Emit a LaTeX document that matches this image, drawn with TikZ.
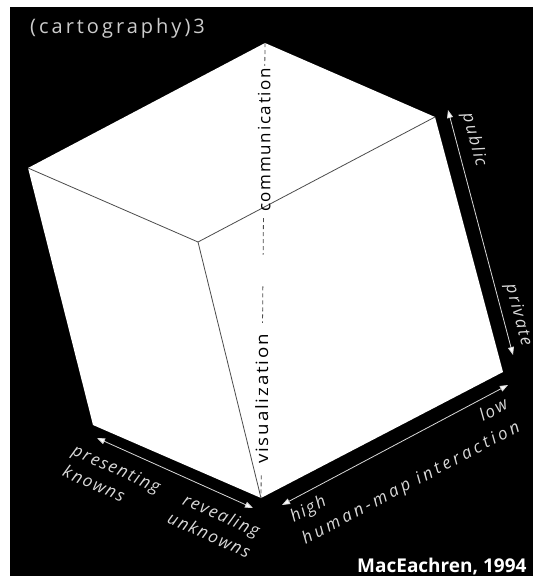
\documentclass[tikz,border=0pt]{standalone}
\usepackage{fontspec}
\setmainfont{Open Sans}
\newfontfamily\lblfont[LetterSpace=10]{Open Sans}
\newfontfamily\widefont[LetterSpace=20]{Open Sans}
\newfontfamily\titlefont[LetterSpace=15]{Open Sans}
\usetikzlibrary{arrows.meta,calc}
\definecolor{lblgray}{gray}{0.85}
\definecolor{titlegray}{gray}{0.8}
\definecolor{edgegray}{gray}{0.3}
\begin{document}
\begin{tikzpicture}[x=1pt,y=-1pt,
  lbl/.style={text=lblgray, inner sep=0pt, font=\lblfont\fontsize{17}{23}\selectfont\itshape},
  axisarrow/.style={draw=lblgray, line width=0.8pt,
    {Triangle[length=8pt,width=6pt,fill=white]}-{Triangle[length=8pt,width=6pt,fill=white]}},
  cubeedge/.style={draw=edgegray, line width=0.8pt},
  diag/.style={draw=edgegray, line width=0.8pt, dash pattern=on 4pt off 3pt},
  diaglbl/.style={text=black, inner sep=0pt, rotate=90, font=\lblfont\fontsize{17}{19}\selectfont}
]
\useasboundingbox (0,0) rectangle (533,576);
\fill[white] (0,0) rectangle (533,576);
\fill[black] (10,7) rectangle (533,576);

% cube vertices
\coordinate (T) at (265,43);
\coordinate (L) at (28,168);
\coordinate (R) at (435,117);
\coordinate (I) at (198,242);
\coordinate (BL) at (93,425);
\coordinate (B) at (261,498);
\coordinate (BR) at (503,372);

\fill[white] (T) -- (R) -- (BR) -- (B) -- (BL) -- (L) -- cycle;
\draw[cubeedge] (L) -- (I) -- (R);
\draw[cubeedge] (I) -- (B);

% diagonal visualization -- communication
\coordinate (d1) at ($(T)!0.050!(B)$);
\coordinate (d2) at ($(T)!0.385!(B)$);
\coordinate (d3) at ($(T)!0.465!(B)$);
\coordinate (d4) at ($(T)!0.535!(B)$);
\coordinate (d5) at ($(T)!0.615!(B)$);
\coordinate (d6) at ($(T)!0.950!(B)$);
\draw[diag] (T) -- (d1);
\draw[diag] (d2) -- (d3);
\draw[diag] (d4) -- (d5);
\draw[diag] (d6) -- (B);
\node[diaglbl] (comm) at ($(T)!0.213!(B)$) {communication};
\node[diaglbl, xscale=1.1] (vis) at ($(T)!0.782!(B)$) {visualization};

% axis arrows
\coordinate (pubA) at (448,110);
\coordinate (pubB) at (513,355);
\coordinate (prA) at (97,438);
\coordinate (prB) at (253,508);
\coordinate (hiA) at (282,505);
\coordinate (hiB) at (508,385);
\draw[axisarrow] (pubA) -- (pubB);
\draw[axisarrow] (prA) -- (prB);
\draw[axisarrow] (hiA) -- (hiB);

% axis labels
\node[lbl, rotate=-75] (public) at (474,140) {public};
\node[lbl, rotate=-75] (private) at (518,315) {private};
\node[lbl, rotate=-24, align=left] (known) at (112,479) {presenting\\knowns};
\node[lbl, rotate=-24, align=right] (unknown) at (214,524) {revealing\\unknowns};
\node[lbl, rotate=28] (hmi) at (405,472)
  {\renewcommand\arraystretch{1.1}\begin{tabular}{@{}l@{}}high\hfill low\\
   {\widefont\itshape human-map interaction}\end{tabular}};

% title and credit
\node[anchor=west, inner sep=0pt, text=titlegray, font=\titlefont\fontsize{20}{22}\selectfont] (title) at (30,28) {(cartography)3};
\node[anchor=base west, inner sep=0pt, text=white, font=\fontsize{19}{21}\selectfont\bfseries] (credit) at (357,572) {MacEachren, 1994};
\end{tikzpicture}
\end{document}
